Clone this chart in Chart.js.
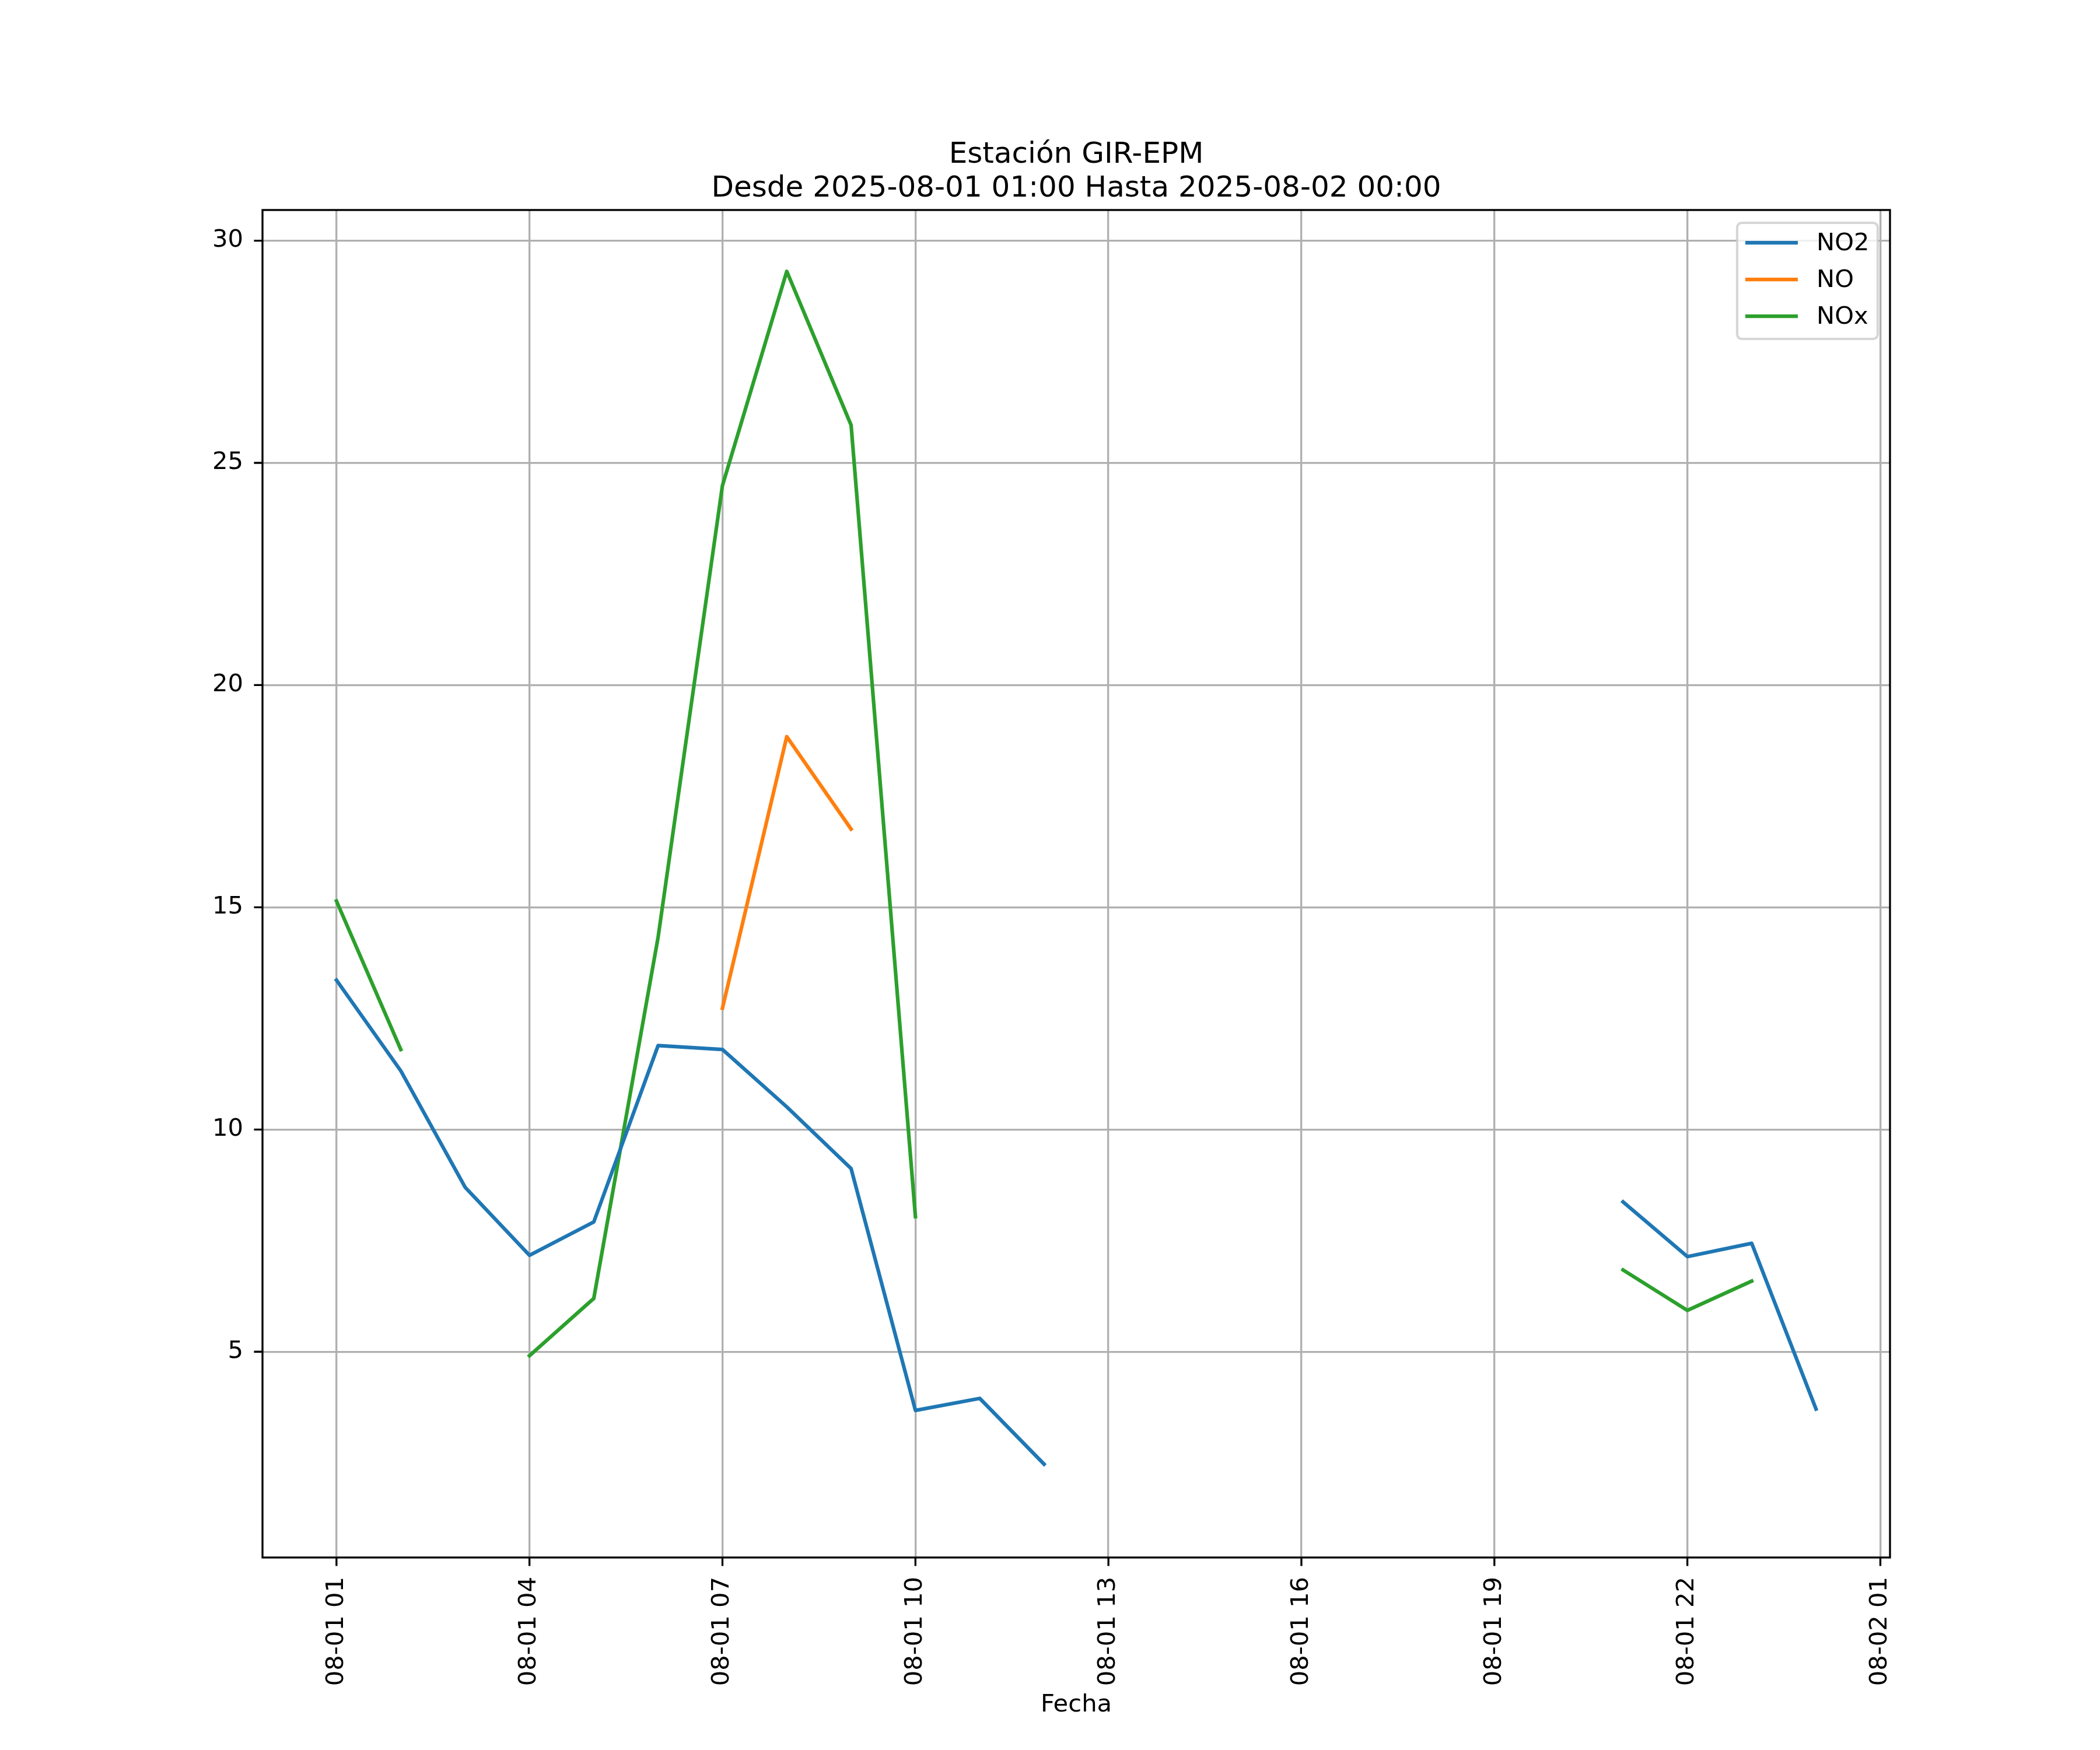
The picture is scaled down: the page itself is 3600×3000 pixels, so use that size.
<!DOCTYPE html>
<html>
<head>
<meta charset="utf-8">
<script src="https://cdn.jsdelivr.net/npm/chart.js@4.4.1/dist/chart.umd.min.js"></script>
<style>
  html, body { margin: 0; padding: 0; background: #fff; }
  #wrap { width: 3600px; height: 3000px; }
</style>
</head>
<body>
<div id="wrap"><canvas id="chart" width="3600" height="3000"></canvas></div>
<script>
// ── Data ──
const hours = [1, 2, 3, 4, 5, 6, 7, 8, 9, 10, 11, 12, 13, 14, 15, 16, 17, 18, 19, 20, 21, 22, 23, 24];
const no2 = [13.36, 11.32, 8.70, 7.17, 7.92, 11.89, 11.80, 10.51, 9.12, 3.68, 3.95, 2.47,
             null, null, null, null, null, null, null, null, 8.37, 7.14, 7.44, 3.71];
const no = [null, null, null, null, null, null, 12.73, 18.84, 16.76,
            null, null, null, null, null, null, null, null, null, null, null, null, null, null, null];
const nox = [15.14, 11.80, null, 4.91, 6.20, 14.33, 24.49, 29.31, 25.85, 8.04,
             null, null, null, null, null, null, null, null, null, null, 6.84, 5.93, 6.59, null];
const xTicks = [1, 4, 7, 10, 13, 16, 19, 22, 25];
const yTicks = [5, 10, 15, 20, 25, 30];
const titleLines = ['Estación GIR-EPM', 'Desde 2025-08-01 01:00 Hasta 2025-08-02 00:00'];

const FONT = "'DejaVu Sans', sans-serif";
const PT = 300 / 72;

function hourLabel(h) {
    const day = 1 + Math.floor(h / 24);
    const hr = h % 24;
    return '08-0' + day + ' ' + String(hr).padStart(2, '0');
}

function series(label, values, color) {
    return {
        label,
        data: hours.map((h, i) => ({ x: h, y: values[i] })),
        borderColor: color,
        backgroundColor: color,
        borderWidth: 1.5 * PT,
        borderJoinStyle: 'round',
        borderCapStyle: 'square',
        pointRadius: 0,
        pointHoverRadius: 0,
        spanGaps: false,
        tension: 0,
    };
}

// ── Frame, ticks, title, legend (matplotlib look) ──
const decor = {
    id: 'decor',
    afterDatasetsDraw(chart) {
        const { ctx, chartArea: a, scales } = chart;
        const lw = 0.8 * PT;
        const tl = 3.5 * PT;
        ctx.save();
        ctx.strokeStyle = '#000';
        ctx.lineWidth = lw;
        ctx.lineCap = 'butt';
        ctx.beginPath();
        xTicks.forEach(v => {
            const x = scales.x.getPixelForValue(v);
            ctx.moveTo(x, a.bottom);
            ctx.lineTo(x, a.bottom + tl);
        });
        yTicks.forEach(v => {
            const y = scales.y.getPixelForValue(v);
            ctx.moveTo(a.left, y);
            ctx.lineTo(a.left - tl, y);
        });
        ctx.stroke();
        ctx.lineJoin = 'miter';
        ctx.strokeRect(a.left, a.top, a.right - a.left, a.bottom - a.top);

        // title
        ctx.fillStyle = '#000';
        ctx.font = (12 * PT) + 'px ' + FONT;
        ctx.textAlign = 'center';
        ctx.textBaseline = 'alphabetic';
        const cx = (a.left + a.right) / 2;
        ctx.fillText(titleLines[0], cx, a.top - 81);
        ctx.fillText(titleLines[1], cx, a.top - 23);

        // legend
        const fs = 10 * PT;
        const bx = 2978, by = 382, bw = 241, bh = 199, r = 8;
        ctx.beginPath();
        ctx.roundRect(bx, by, bw, bh, r);
        ctx.fillStyle = 'rgba(255,255,255,0.8)';
        ctx.fill();
        ctx.lineWidth = 1.0 * PT;
        ctx.strokeStyle = 'rgba(204,204,204,0.8)';
        ctx.stroke();
        ctx.font = fs + 'px ' + FONT;
        ctx.textAlign = 'left';
        ctx.textBaseline = 'middle';
        chart.data.datasets.forEach((ds, i) => {
            const y = 416 + i * 63;
            ctx.strokeStyle = ds.borderColor;
            ctx.lineWidth = ds.borderWidth;
            ctx.lineCap = 'butt';
            ctx.beginPath();
            ctx.moveTo(2992, y);
            ctx.lineTo(3082, y);
            ctx.stroke();
            ctx.fillStyle = '#000';
            ctx.fillText(ds.label, 3114, y + 2);
        });
        ctx.restore();
    }
};

new Chart(document.getElementById('chart'), {
    type: 'line',
    data: {
        datasets: [
            series('NO2', no2, '#1f77b4'),
            series('NO', no, '#ff7f0e'),
            series('NOx', nox, '#2ca02c'),
        ]
    },
    options: {
        responsive: false,
        animation: false,
        devicePixelRatio: 1,
        events: [],
        layout: { padding: { top: 360, right: 360, left: 0, bottom: 0 } },
        plugins: {
            legend: { display: false },
            title: { display: false },
            tooltip: { enabled: false },
        },
        scales: {
            x: {
                type: 'linear',
                min: -0.15,
                max: 25.15,
                afterFit: s => { s.height = 330; },
                afterBuildTicks: s => { s.ticks = xTicks.map(v => ({ value: v })); },
                grid: { color: '#b0b0b0', lineWidth: 0.8 * PT, drawTicks: false },
                border: { display: false },
                ticks: {
                    autoSkip: false,
                    maxRotation: 90,
                    minRotation: 90,
                    padding: 33,
                    color: '#000',
                    font: { family: FONT, size: 10 * PT },
                    callback: v => hourLabel(v),
                },
                title: {
                    display: true,
                    text: 'Fecha',
                    color: '#000',
                    font: { family: FONT, size: 10 * PT },
                    padding: { top: 0, bottom: 52 },
                },
            },
            y: {
                type: 'linear',
                min: 0.37,
                max: 30.69,
                afterFit: s => { s.width = 450; },
                afterBuildTicks: s => { s.ticks = yTicks.map(v => ({ value: v })); },
                grid: { color: '#b0b0b0', lineWidth: 0.8 * PT, drawTicks: false },
                border: { display: false },
                ticks: {
                    padding: 33,
                    color: '#000',
                    font: { family: FONT, size: 10 * PT },
                },
            },
        },
    },
    plugins: [decor],
});
</script>
</body>
</html>
